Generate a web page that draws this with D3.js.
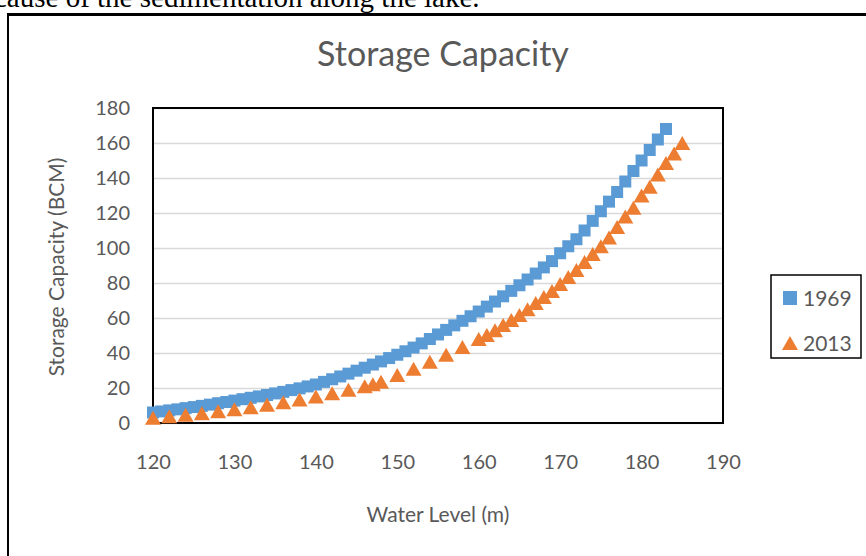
<!DOCTYPE html>
<html>
<head>
<meta charset="utf-8">
<script src="https://cdn.jsdelivr.net/npm/d3@7"></script>
<style>
  body { margin: 0; background: #fff; }
  text { font-family: Lato, "Open Sans", sans-serif; }
</style>
</head>
<body>
<div id="chart"></div>
<script>
// water level (m) and storage capacity (BCM)
const levels1969 = [120, 121, 122, 123, 124, 125, 126, 127, 128, 129,
    130, 131, 132, 133, 134, 135, 136, 137, 138, 139,
    140, 141, 142, 143, 144, 145, 146, 147, 148, 149,
    150, 151, 152, 153, 154, 155, 156, 157, 158, 159,
    160, 161, 162, 163, 164, 165, 166, 167, 168, 169,
    170, 171, 172, 173, 174, 175, 176, 177, 178, 179,
    180, 181, 182, 183];
const capacity1969 = [6.0, 6.6, 7.2, 7.8, 8.5, 9.1, 9.8, 10.5, 11.3, 12.0,
    12.8, 13.6, 14.4, 15.2, 16.0, 16.9, 17.8, 18.8, 19.8, 20.9,
    22.0, 23.5, 25.0, 26.6, 28.2, 29.9, 31.6, 33.4, 35.2, 37.1,
    39.0, 41.0, 43.1, 45.5, 48.0, 50.6, 53.2, 55.8, 58.4, 61.0,
    63.7, 66.5, 69.4, 72.4, 75.5, 78.7, 82.0, 85.4, 88.9, 92.5,
    97.0, 101, 105, 110, 115.5, 121, 126.5, 132, 138, 144,
    150, 156, 162, 168];

const levels2013 = [120, 122, 124, 126, 128, 130, 132, 134, 136, 138,
    140, 142, 144, 146, 147, 148, 150, 152, 154, 156,
    158, 160, 161, 162, 163, 164, 165, 166, 167, 168,
    169, 170, 171, 172, 173, 174, 175, 176, 177, 178,
    179, 180, 181, 182, 183, 184, 185];
const capacity2013 = [3.0, 3.9, 4.7, 5.6, 6.7, 7.8, 9.0, 10.4, 11.9, 13.5,
    15.2, 17.0, 19.0, 21.0, 22.2, 23.6, 27.4, 31.0, 35.0, 39.0,
    43.4, 48.0, 50.3, 53.0, 56.0, 58.9, 61.7, 65.0, 68.6, 72.0,
    75.4, 79.4, 83.4, 87.4, 92.0, 96.6, 101, 106, 112, 118,
    123, 130, 135, 142, 148.6, 154, 160];

const seriesNames = ["1969", "2013"];
const xTicks = [120, 130, 140, 150, 160, 170, 180, 190];
const yTicks = [0, 20, 40, 60, 80, 100, 120, 140, 160, 180];

const width = 866,
    height = 556,
    margin = { left: 153, right: 143, top: 108, bottom: 133 },
    innerWidth = width - margin.left - margin.right,
    innerHeight = height - margin.top - margin.bottom;

const color = d3.scaleOrdinal().domain(seriesNames).range(["#5B9BD5", "#ED7D31"]);
const squareSize = 12,
    triW = 16,
    triH = 14;

const svg = d3.select("#chart").append("svg")
    .attr("width", width)
    .attr("height", height);

// bit of document text above the chart frame
svg.append("text")
    .attr("x", -6)
    .attr("y", 7)
    .style("font-family", "'Liberation Serif', serif")
    .style("font-size", "29px")
    .attr("fill", "#000")
    .text("cause of the sedimentation along the lake.");

// chart frame
svg.append("line")
    .attr("x1", 7).attr("x2", width)
    .attr("y1", 14.5).attr("y2", 14.5)
    .attr("stroke", "#000").attr("stroke-width", 3);
svg.append("line")
    .attr("x1", 8).attr("x2", 8)
    .attr("y1", 14).attr("y2", height)
    .attr("stroke", "#000").attr("stroke-width", 2);

svg.append("text")
    .attr("x", 443)
    .attr("y", 66)
    .attr("text-anchor", "middle")
    .attr("fill", "#595959")
    .style("font-size", "34px")
    .text("Storage Capacity");

const g = svg.append("g")
    .attr("transform", "translate(" + margin.left + "," + margin.top + ")");

const xScale = d3.scaleLinear().domain([120, 190]).range([0, innerWidth]);
const yScale = d3.scaleLinear().domain([0, 180]).range([innerHeight, 0]);

// gridlines
g.append("g")
    .attr("class", "grid")
    .call(d3.axisLeft(yScale).tickValues(yTicks).tickSize(-innerWidth).tickFormat(""))
    .call(s => s.select(".domain").remove())
    .call(s => s.selectAll("line").attr("stroke", "#D9D9D9").attr("stroke-width", 1.3));

// axes
const xAxis = g.append("g")
    .attr("transform", "translate(0," + innerHeight + ")")
    .call(d3.axisBottom(xScale).tickValues(xTicks).tickSize(0).tickPadding(32));
xAxis.select(".domain").remove();
xAxis.selectAll("text")
    .attr("fill", "#595959")
    .style("font-size", "20px");

const yAxis = g.append("g")
    .call(d3.axisLeft(yScale).tickValues(yTicks).tickSize(0).tickPadding(23));
yAxis.select(".domain").remove();
yAxis.selectAll("text")
    .attr("fill", "#595959")
    .style("font-size", "20px");

// plot area border
g.append("rect")
    .attr("width", innerWidth)
    .attr("height", innerHeight)
    .attr("fill", "none")
    .attr("stroke", "#000")
    .attr("stroke-width", 2);

// axis titles
svg.append("text")
    .attr("x", 438)
    .attr("y", 522)
    .attr("text-anchor", "middle")
    .attr("fill", "#595959")
    .style("font-size", "21px")
    .text("Water Level (m)");

svg.append("text")
    .attr("transform", "translate(" + 64 + "," + 267 + ") rotate(-90)")
    .attr("text-anchor", "middle")
    .attr("fill", "#595959")
    .style("font-size", "21px")
    .text("Storage Capacity (BCM)");

const triangle = "M0," + (-triH / 2) + "L" + (triW / 2) + "," + (triH / 2) + "L" + (-triW / 2) + "," + (triH / 2) + "Z";

// 1969 squares
g.append("g").selectAll("rect")
    .data(levels1969.map((d, i) => [d, capacity1969[i]]))
    .enter().append("rect")
    .attr("x", d => xScale(d[0]) - squareSize / 2)
    .attr("y", d => yScale(d[1]) - squareSize / 2)
    .attr("width", squareSize)
    .attr("height", squareSize)
    .attr("fill", color("1969"));

// 2013 triangles
g.append("g").selectAll("path")
    .data(levels2013.map((d, i) => [d, capacity2013[i]]))
    .enter().append("path")
    .attr("transform", d => "translate(" + xScale(d[0]) + "," + yScale(d[1]) + ")")
    .attr("d", triangle)
    .attr("fill", color("2013"));

// legend
const legend = svg.append("g")
    .attr("transform", "translate(771,275)");

legend.append("rect")
    .attr("width", 90)
    .attr("height", 83)
    .attr("fill", "#fff")
    .attr("stroke", "#000")
    .attr("stroke-width", 1.5);

seriesNames.forEach(function(d, i) {
    let legendRow = legend.append("g")
        .attr("transform", "translate(19," + (23 + i * 45) + ")");

    if (i === 0) {
        legendRow.append("rect")
            .attr("x", -7).attr("y", -7)
            .attr("width", 14).attr("height", 14)
            .attr("fill", color(d));
    } else {
        legendRow.append("path")
            .attr("d", triangle)
            .attr("fill", color(d));
    }

    legendRow.append("text")
        .attr("x", 13)
        .attr("y", 8)
        .attr("fill", "#595959")
        .style("font-size", "21px")
        .text(d);
});
</script>
</body>
</html>
